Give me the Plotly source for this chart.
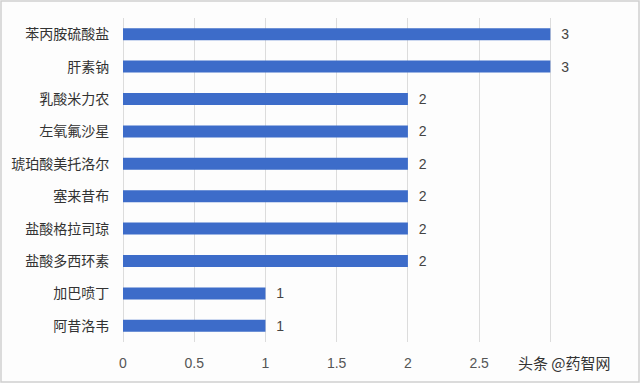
import plotly.graph_objects as go

categories = ["苯丙胺硫酸盐", "肝素钠", "乳酸米力农", "左氧氟沙星", "琥珀酸美托洛尔",
              "塞来昔布", "盐酸格拉司琼", "盐酸多西环素", "加巴喷丁", "阿昔洛韦"]
values = [3, 3, 2, 2, 2, 2, 2, 2, 1, 1]
tick_vals = [0, 0.5, 1, 1.5, 2, 2.5, 3, 3.5]
tick_text = ["0", "0.5", "1", "1.5", "2", "2.5", "", ""]

FONT = "Liberation Sans, Noto Sans CJK SC, sans-serif"

fig = go.Figure(go.Bar(
    x=values, y=categories, orientation="h",
    marker=dict(color="#3d6cc9", line=dict(width=0)),
    width=0.37,
    text=["  " + str(v) for v in values], textposition="outside",
    textfont=dict(size=14, color="#444444", family=FONT),
    constraintext="none",
    cliponaxis=False,
    hoverinfo="skip",
))

fig.update_layout(
    width=640, height=383,
    margin=dict(l=123, r=18, t=18, b=41, autoexpand=False),
    paper_bgcolor="#fdfdfd", plot_bgcolor="#fdfdfd",
    font=dict(family=FONT, size=13, color="#444444"),
    showlegend=False,
    xaxis=dict(range=[0, 3.503], tickvals=tick_vals, ticktext=tick_text,
               showgrid=True, gridcolor="#dcdcdc", gridwidth=1,
               zeroline=True, zerolinecolor="#dcdcdc", zerolinewidth=1,
               showline=False, ticks="outside", ticklen=8, tickcolor="rgba(0,0,0,0)",
               tickfont=dict(size=14, color="#555555"),
               automargin=False, fixedrange=True),
    yaxis=dict(autorange="reversed", showgrid=False, showline=False,
               ticks="outside", ticklen=10, tickcolor="rgba(0,0,0,0)",
               tickfont=dict(size=14, color="#333333"), automargin=False,
               fixedrange=True),
    shapes=[dict(type="rect", xref="paper", yref="paper",
                 x0=-122/499, x1=1+17/499, y0=-40/324, y1=1+17/324,
                 line=dict(color="#d0d0d0", width=1.5))],
    annotations=[dict(text="头条 @药智网", xref="paper", yref="paper",
                      x=0.982, y=-20/324, xanchor="right", yanchor="middle",
                      showarrow=False,
                      font=dict(size=15, color="#333333", family="Noto Sans CJK SC"))],
)

fig.write_html("out.html", config={"displayModeBar": False},
               post_script="document.body.style.margin='0';document.body.style.overflow='hidden';")
